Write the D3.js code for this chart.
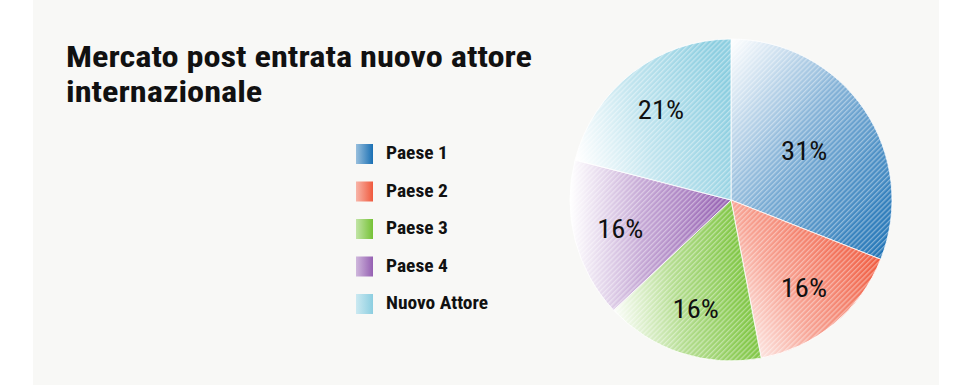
<!DOCTYPE html>
<html>
<head>
<meta charset="utf-8">
<script src="https://cdn.jsdelivr.net/npm/d3@7"></script>
<style>
  body { margin: 0; background: #ffffff; }
  svg { display: block; }
  text { font-family: "Roboto Condensed", "Liberation Sans Narrow", sans-serif; }
</style>
</head>
<body>
<script>
// dati
const categories = ["Paese 1", "Paese 2", "Paese 3", "Paese 4", "Nuovo Attore"];
const values = [31, 16, 16, 16, 21];
const title = ["Mercato post entrata nuovo attore", "internazionale"];

// colori (fine del gradiente) e direzione del gradiente per fetta
const darkColors = ["#1a70b4", "#f05a3e", "#76c236", "#9560b2", "#8ccee0"];
const gradDir = [
  [0, 0, 1, 1],
  [0, 1, 1, 0.35],
  [0, 0.8, 1, 0.6],
  [0, 0.5, 1, 0.5],
  [0, 0.7, 1, 0.4]
];

const W = 968, H = 385;
const cx = 731, cy = 200, R = 161;

// allarga un testo in orizzontale (il font originale e' piu' largo)
function stretch(sel, k) {
  sel.each(function () {
    var w = this.getComputedTextLength();
    d3.select(this)
      .attr("textLength", w * k)
      .attr("lengthAdjust", "spacingAndGlyphs");
  });
}

const svg = d3.select("body").append("svg")
  .attr("width", W)
  .attr("height", H);

svg.append("rect")
  .attr("x", 33).attr("y", 0)
  .attr("width", 906).attr("height", H)
  .attr("fill", "#f8f8f6");

const defs = svg.append("defs");

categories.forEach((c, i) => {
  var g = defs.append("linearGradient")
    .attr("id", "grad" + i)
    .attr("x1", gradDir[i][0]).attr("y1", gradDir[i][1])
    .attr("x2", gradDir[i][2]).attr("y2", gradDir[i][3]);
  g.append("stop").attr("offset", "0%").attr("stop-color", "#ffffff");
  g.append("stop").attr("offset", "45%").attr("stop-color", d3.interpolateRgb("#ffffff", darkColors[i])(0.55));
  g.append("stop").attr("offset", "100%").attr("stop-color", darkColors[i]);

  // swatch legenda
  var lg = defs.append("linearGradient")
    .attr("id", "lgrad" + i)
    .attr("x1", 0).attr("y1", 0).attr("x2", 1).attr("y2", 0);
  lg.append("stop").attr("offset", "0%").attr("stop-color", d3.interpolateRgb("#ffffff", darkColors[i])(0.45));
  lg.append("stop").attr("offset", "100%").attr("stop-color", darkColors[i]);
});

// righe diagonali
const pat = defs.append("pattern")
  .attr("id", "stripes")
  .attr("patternUnits", "userSpaceOnUse")
  .attr("width", 3.6).attr("height", 3.6)
  .attr("patternTransform", "rotate(45)");
pat.append("rect")
  .attr("x", 0).attr("y", 0)
  .attr("width", 1.3).attr("height", 3.6)
  .attr("fill", "#ffffff")
  .attr("fill-opacity", 0.4);

// titolo
const titleText = svg.append("g")
  .selectAll("text")
  .data(title)
  .join("text")
  .attr("x", 66)
  .attr("y", (d, i) => 67 + i * 35)
  .attr("font-size", 29)
  .attr("font-weight", "bold")
  .attr("fill", "#111")
  .text(d => d);
var tw = titleText.node().getComputedTextLength();
stretch(titleText, 466 / tw);

// torta
const pie = d3.pie().sort(null).value(d => d.value);
const data = categories.map((c, i) => ({ name: c, value: values[i], idx: i }));
const arcs = pie(data);
const arc = d3.arc().innerRadius(0).outerRadius(R);

const pg = svg.append("g").attr("transform", "translate(" + cx + "," + cy + ")");

pg.selectAll("path.slice")
  .data(arcs)
  .join("path")
  .attr("class", "slice")
  .attr("d", arc)
  .attr("fill", d => "url(#grad" + d.data.idx + ")")
  .attr("stroke", "#ffffff")
  .attr("stroke-width", 0.8);

pg.selectAll("path.stripe")
  .data(arcs)
  .join("path")
  .attr("class", "stripe")
  .attr("d", arc)
  .attr("fill", "url(#stripes)");

// etichette percentuali
const maxVal = d3.max(values);
const pct = pg.selectAll("text.pct")
  .data(arcs)
  .join("text")
  .attr("class", "pct")
  .attr("transform", d => {
    var r = d.data.value === maxVal ? R * 0.55 : R * 0.71;
    var a = (d.startAngle + d.endAngle) / 2;
    return "translate(" + (Math.sin(a) * r) + "," + (-Math.cos(a) * r) + ")";
  })
  .attr("text-anchor", "middle")
  .attr("dy", "0.36em")
  .attr("font-size", 26)
  .attr("fill", "#111")
  .text(d => d.data.value + "%");
stretch(pct, 1.1);

// legenda
const legend = svg.append("g").attr("transform", "translate(356,144)");
const rows = legend.selectAll("g")
  .data(categories)
  .join("g")
  .attr("transform", (d, i) => "translate(0," + (i * 37.5) + ")");
rows.append("rect")
  .attr("width", 17).attr("height", 20)
  .attr("fill", (d, i) => "url(#lgrad" + i + ")");
const ltext = rows.append("text")
  .attr("x", 30)
  .attr("y", 15)
  .attr("font-size", 18)
  .attr("font-weight", "bold")
  .attr("fill", "#111")
  .text(d => d);
stretch(ltext, 1.08);
</script>
</body>
</html>
